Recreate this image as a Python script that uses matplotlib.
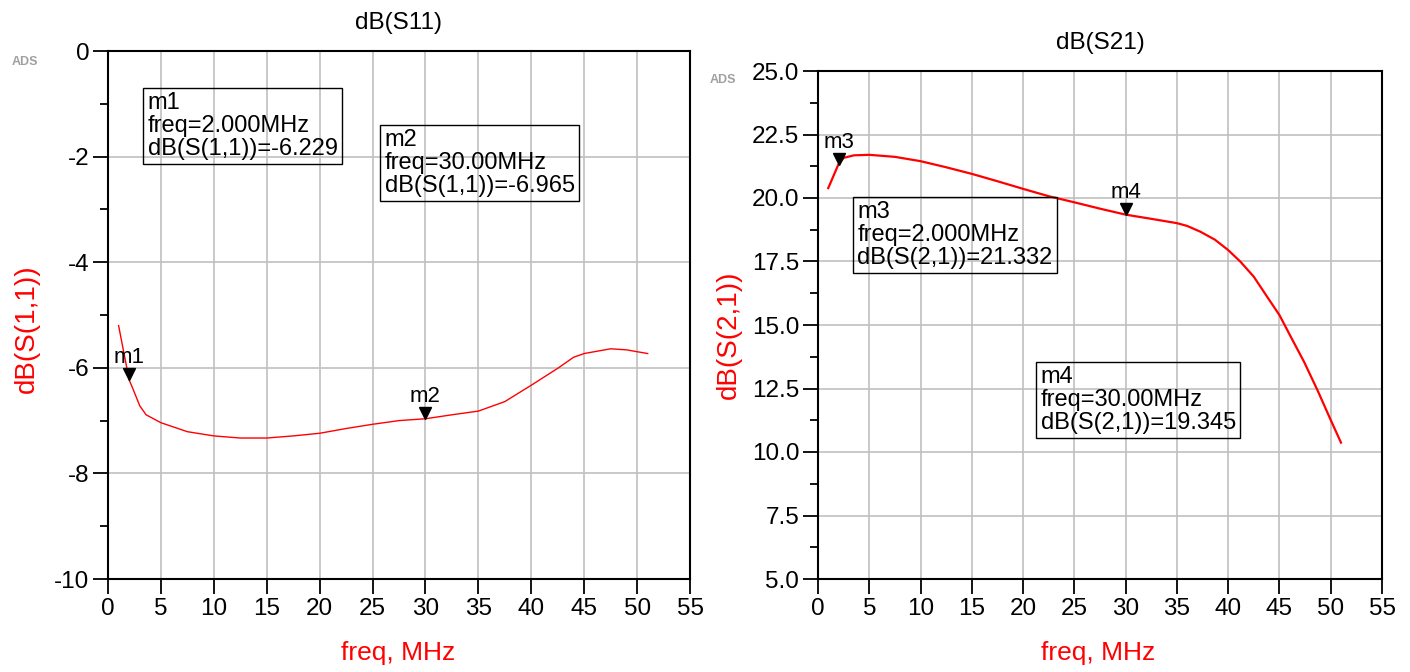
import numpy as np
import matplotlib.pyplot as plt
import matplotlib.transforms as mtransforms

plt.rcParams['font.family'] = ['Liberation Sans', 'DejaVu Sans']

# S11 trace (dB) vs frequency (MHz)
freq_s11 = [1, 2, 2.4, 3.0, 3.6, 5, 7.5, 10, 12.5, 15, 17.5, 20, 22.5, 25, 27.5,
            30, 32.5, 35, 37.5, 40, 42.5, 44, 45, 47.5, 49, 51]
s11_db = [-5.20, -6.229, -6.42, -6.72, -6.89, -7.04, -7.21, -7.29, -7.33, -7.33,
          -7.29, -7.24, -7.15, -7.07, -7.00, -6.965, -6.89, -6.82, -6.64, -6.33,
          -6.01, -5.80, -5.73, -5.64, -5.66, -5.73]

# S21 trace (dB) vs frequency (MHz)
freq_s21 = [1, 2, 2.5, 3.5, 5, 7.5, 10, 12.5, 15, 17.5, 20, 22.5, 25, 27.5, 30,
            32.5, 35, 36.0, 37.3, 38.7, 40, 41.2, 42.5, 43.8, 45, 46.1, 47.4,
            48.7, 50, 51]
s21_db = [20.39, 21.332, 21.58, 21.68, 21.70, 21.62, 21.45, 21.21, 20.95, 20.66,
          20.36, 20.07, 19.83, 19.58, 19.345, 19.18, 19.01, 18.90, 18.67, 18.36,
          17.95, 17.49, 16.9, 16.11, 15.39, 14.54, 13.55, 12.44, 11.26, 10.37]

# markers: name, freq, value
s11_markers = [("m1", 2.0, -6.229), ("m2", 30.0, -6.965)]
s21_markers = [("m3", 2.0, 21.332), ("m4", 30.0, 19.345)]

x_ticks = list(range(0, 56, 5))

fig = plt.figure(figsize=(14.1, 6.72), dpi=100)
ax1 = fig.add_axes([108 / 1410, 1 - 579 / 672, 582 / 1410, 528 / 672])
ax2 = fig.add_axes([818 / 1410, 1 - 579 / 672, 564 / 1410, 508 / 672])


def style_axes(ax, yticks, yminor, ylim, fmt):
    ax.set_xlim(0, 55)
    ax.set_ylim(*ylim)
    ax.set_xticks(x_ticks)
    ax.set_yticks(yticks)
    ax.set_yticks(yminor, minor=True)
    ax.set_yticklabels([fmt.format(v) for v in yticks])
    ax.grid(True, which='major', color='#c0c0c0', linewidth=1.2)
    ax.set_axisbelow(True)
    for sp in ax.spines.values():
        sp.set_linewidth(1.5)
        sp.set_color('black')
    ax.tick_params(axis='both', which='major', direction='out', length=10.5,
                   width=1.3, labelsize=17.5, pad=3)
    ax.tick_params(axis='y', which='minor', direction='out', length=6, width=1.3)
    ax.tick_params(axis='x', which='minor', length=0)


def draw_marker(ax, name, f, v):
    tr = mtransforms.offset_copy(ax.transData, fig=fig, y=4, units='points')
    ax.plot([f], [v], marker='v', color='black', markersize=8, transform=tr,
            zorder=5)
    ax.annotate(name, (f, v), xytext=(0, 12), textcoords='offset points',
                ha='center', va='baseline', fontsize=16, zorder=5)


def marker_box(ax, x, y, name, f, v, port):
    txt = "{}\nfreq={}MHz\ndB(S({}))={:.3f}".format(
        name, "{:.3f}".format(f) if f < 10 else "{:.2f}".format(f), port, v)
    ax.text(x, y, txt, ha='left', va='top', fontsize=17, linespacing=1.05,
            bbox=dict(boxstyle='square,pad=0.18', fc='none', ec='black', lw=1),
            zorder=6)


# left panel: dB(S11)
style_axes(ax1, [0, -2, -4, -6, -8, -10], [-1, -3, -5, -7, -9], (-10, 0), "{:g}")
ax1.plot(freq_s11, s11_db, color='red', linewidth=1.0)
for name, f, v in s11_markers:
    draw_marker(ax1, name, f, v)
marker_box(ax1, 3.75, -0.78, *s11_markers[0], port="1,1")
marker_box(ax1, 26.15, -1.48, *s11_markers[1], port="1,1")
ax1.set_title("dB(S11)", fontsize=17.5, pad=16)
ax1.set_xlabel("freq, MHz", color='red', fontsize=19)
ax1.set_ylabel("dB(S(1,1))", color='red', fontsize=20)
ax1.xaxis.set_label_coords(0.498, -0.118)
ax1.yaxis.set_label_coords(-0.117, 0.475)
fig.text(12 / 1410, 1 - 62 / 672, "ADS", fontsize=9, color='#a0a0a0',
         fontweight='bold', ha='left', va='center')

# right panel: dB(S21)
yt2 = [5.0, 7.5, 10.0, 12.5, 15.0, 17.5, 20.0, 22.5, 25.0]
ym2 = [6.25, 8.75, 11.25, 13.75, 16.25, 18.75, 21.25, 23.75]
style_axes(ax2, yt2, ym2, (5, 25), "{:.1f}")
ax2.plot(freq_s21, s21_db, color='red', linewidth=1.6)
for name, f, v in s21_markers:
    draw_marker(ax2, name, f, v)
marker_box(ax2, 3.85, 19.88, *s21_markers[0], port="2,1")
marker_box(ax2, 21.7, 13.39, *s21_markers[1], port="2,1")
ax2.set_title("dB(S21)", fontsize=17.5, pad=16)
ax2.set_xlabel("freq, MHz", color='red', fontsize=19)
ax2.set_ylabel("dB(S(2,1))", color='red', fontsize=20)
ax2.xaxis.set_label_coords(0.496, -0.123)
ax2.yaxis.set_label_coords(-0.135, 0.48)
fig.text(710 / 1410, 1 - 80 / 672, "ADS", fontsize=9, color='#a0a0a0',
         fontweight='bold', ha='left', va='center')

fig.savefig("out.png", dpi=100, facecolor='white')
